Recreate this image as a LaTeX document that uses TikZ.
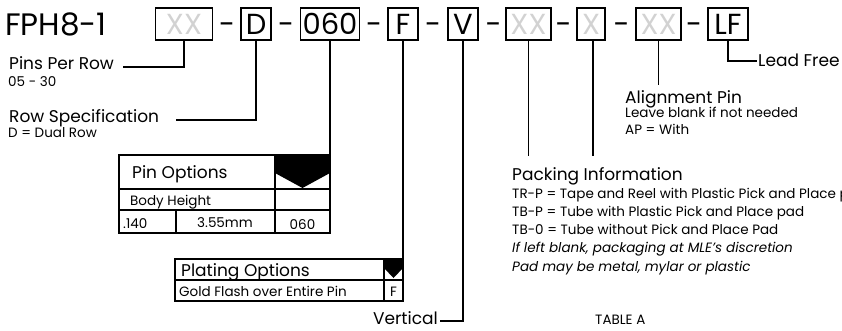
\documentclass[tikz,border=0pt]{standalone}
\usepackage{fontspec}
\setmainfont{Poppins}
\usetikzlibrary{positioning}
\definecolor{codegray}{RGB}{210,210,210}

\begin{document}
\begin{tikzpicture}[x=1pt, y=-1pt,
    codebox/.style={draw, line width=1.2pt, minimum height=32pt, inner sep=0pt,
        font=\fontsize{29}{31}\selectfont},
    codetext/.style={inner sep=0pt, anchor=base, font=\fontsize{29}{31}\selectfont},
    biglabel/.style={inner sep=0pt, anchor=base west, font=\fontsize{17}{19}\selectfont},
    smalllabel/.style={inner sep=0pt, anchor=base west, font=\fontsize{13.5}{15}\selectfont},
    celltext/.style={inner sep=0pt, anchor=base west, font=\fontsize{13.5}{15}\selectfont},
    leader/.style={draw, line width=1.7pt},
    grid/.style={draw, line width=1.2pt}]
    \useasboundingbox (0,0) rectangle (842,330);

    % Part number
    \node[codetext, anchor=base west, font=\fontsize{31}{33}\selectfont] (title) at (5,35.5) {FPH8-1};
    \node[codebox, minimum width=57pt, text=codegray] (pins) at (184,24) {XX};
    \node[codebox, minimum width=30pt] (row) at (256,24) {D};
    \node[codebox, minimum width=59pt] (height) at (330,24) {060};
    \node[codebox, minimum width=30pt] (plating) at (403,24) {F};
    \node[codebox, minimum width=30pt] (vert) at (463,24) {V};
    \node[codebox, minimum width=45pt, text=codegray] (packing) at (528.5,24) {XX};
    \node[codebox, minimum width=28pt, text=codegray] (padopt) at (591,24) {X};
    \node[codebox, minimum width=45pt, text=codegray] (align) at (658.5,24) {XX};
    \node[codebox, minimum width=40pt] (leadfree) at (728,24) {LF};

    % Dashes
    \foreach \x [count=\i] in {227,286,374,433,493.5,563.5,621.5,694}
        \node[codetext] (dash\i) at (\x,34) {-};

    % Labels
    \node[biglabel] (pprlabel) at (9,69) {Pins Per Row};
    \node[smalllabel] (pprnote) at (8,86) {05 - 30};
    \node[biglabel] (rowlabel) at (9,122) {Row Specification};
    \node[smalllabel] (rownote) at (8,137) {D = Dual Row};
    \node[biglabel] (lflabel) at (758,66) {Lead Free};
    \node[biglabel] (alignlabel) at (625,103) {Alignment Pin};
    \node[smalllabel] (alignnote) at (625,117) {Leave blank if not needed};
    \node[smalllabel] (alignap) at (625,134) {AP = With};
    \node[biglabel] (packlabel) at (512,180) {Packing Information};
    \node[smalllabel] (packtrp) at (512,198) {TR-P = Tape and Reel with Plastic Pick and Place pad};
    \node[smalllabel] (packtbp) at (512,216) {TB-P = Tube with Plastic Pick and Place pad};
    \node[smalllabel] (packtbo) at (512,234) {TB-0 = Tube without Pick and Place Pad};
    \node[smalllabel, font=\fontsize{13.5}{15}\selectfont\itshape] (packblank) at (512,252) {If left blank, packaging at MLE's discretion};
    \node[smalllabel, font=\fontsize{13.5}{15}\selectfont\itshape] (packpad) at (512,271) {Pad may be metal, mylar or plastic};
    \node[smalllabel] (tablea) at (595,324) {TABLE A};
    \node[biglabel, anchor=base east] (vertlabel) at (438,324) {Vertical};

    % Pin Options table
    \draw[grid] (119,155) rectangle (330,233);
    \draw[grid] (119,189) -- (330,189);
    \draw[grid] (119,210) -- (330,210);
    \draw[grid] (275,155) -- (275,233);
    \draw[grid] (176,210) -- (176,233);
    \fill (275,155) -- (330,155) -- (330,173) -- (302.5,188) -- (275,173) -- cycle;
    \node[biglabel] (pinopt) at (132,178) {Pin Options};
    \node[celltext] (bodyh) at (130,205) {Body Height};
    \node[celltext] (inch) at (123,228) {.140};
    \node[celltext, anchor=base] (mm) at (225,227) {3.55mm};
    \node[celltext, anchor=base] (code060) at (302.5,229) {060};

    % Plating Options table
    \draw[grid] (175,259) rectangle (403,301);
    \draw[grid] (175,280) -- (403,280);
    \draw[grid] (384,259) -- (384,301);
    \fill (384,259) -- (403,259) -- (403,268) -- (393.5,278) -- (384,268) -- cycle;
    \node[biglabel] (platopt) at (181,276) {Plating Options};
    \node[celltext] (gold) at (179,296) {Gold Flash over Entire Pin};
    \node[celltext, anchor=base] (codeF) at (393.5,296) {F};

    % Leader ends
    \coordinate (pprend) at (123,67);
    \coordinate (rowend) at (176,120);
    \coordinate (vertend) at (440,321);
    \coordinate (lfend) at (757,61);
    \coordinate (pintop) at (330,155);
    \coordinate (plattop) at (403,259);
    \coordinate (packend) at (528.5,156);
    \coordinate (padend) at (593,156);
    \coordinate (alignend) at (658.5,85);

    % Leaders
    \draw[leader] (pins.south) |- (pprend);
    \draw[leader] (row.south) |- (rowend);
    \draw[leader] (height.south) -- (pintop);
    \draw[leader] (plating.south) -- (plattop);
    \draw[leader] (vert.south) |- (vertend);
    \draw[leader] (packing.south) -- (packend);
    \draw[leader] (padopt.south -| padend) -- (padend);
    \draw[leader] (align.south) -- (alignend);
    \draw[leader] (leadfree.south) |- (lfend);
\end{tikzpicture}
\end{document}
